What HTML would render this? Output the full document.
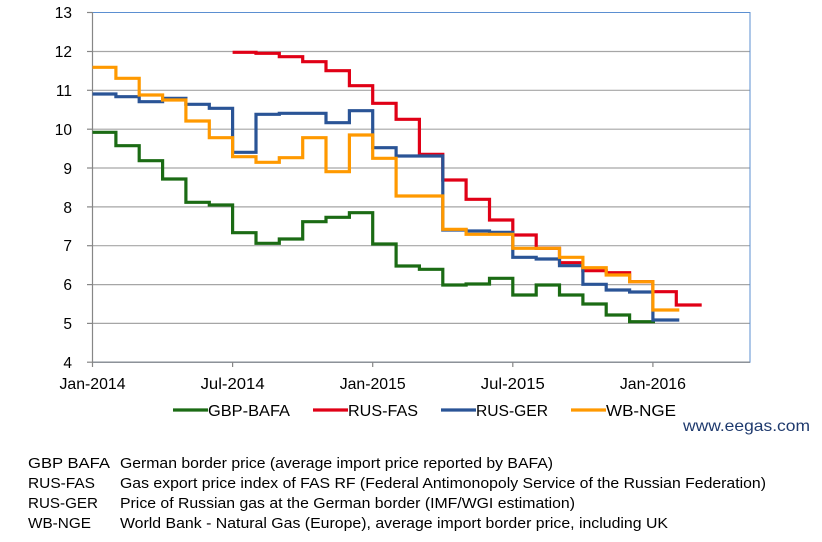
<!DOCTYPE html>
<html><head><meta charset="utf-8"><style>
html,body{margin:0;padding:0;background:#fff;}
svg{display:block;font-family:"Liberation Sans",sans-serif;}
</style></head><body>
<svg width="822" height="542" viewBox="0 0 822 542" xmlns="http://www.w3.org/2000/svg">
<g stroke="#a6a6a6" stroke-width="1.2">
<line x1="92.5" y1="51.5" x2="750" y2="51.5"/>
<line x1="92.5" y1="90.3" x2="750" y2="90.3"/>
<line x1="92.5" y1="129.2" x2="750" y2="129.2"/>
<line x1="92.5" y1="168" x2="750" y2="168"/>
<line x1="92.5" y1="206.9" x2="750" y2="206.9"/>
<line x1="92.5" y1="245.7" x2="750" y2="245.7"/>
<line x1="92.5" y1="284.6" x2="750" y2="284.6"/>
<line x1="92.5" y1="323.4" x2="750" y2="323.4"/>
<line x1="92.5" y1="362.2" x2="750" y2="362.2"/>
</g>
<rect x="92.5" y="12.5" width="657.5" height="349.7" fill="none" stroke="#5b8fd1" stroke-width="1"/>
<g stroke="#868686" stroke-width="1.2">
<line x1="92.5" y1="12.5" x2="92.5" y2="367"/>
<line x1="92.5" y1="362.2" x2="750" y2="362.2"/>
<line x1="87" y1="12.5" x2="92.5" y2="12.5"/><line x1="87" y1="51.5" x2="92.5" y2="51.5"/><line x1="87" y1="90.3" x2="92.5" y2="90.3"/><line x1="87" y1="129.2" x2="92.5" y2="129.2"/><line x1="87" y1="168" x2="92.5" y2="168"/><line x1="87" y1="206.9" x2="92.5" y2="206.9"/><line x1="87" y1="245.7" x2="92.5" y2="245.7"/><line x1="87" y1="284.6" x2="92.5" y2="284.6"/><line x1="87" y1="323.4" x2="92.5" y2="323.4"/><line x1="87" y1="362.2" x2="92.5" y2="362.2"/>
<line x1="232.6" y1="362" x2="232.6" y2="367"/><line x1="372.7" y1="362" x2="372.7" y2="367"/><line x1="512.8" y1="362" x2="512.8" y2="367"/><line x1="652.9" y1="362" x2="652.9" y2="367"/>
</g>
<g font-size="15.5" fill="#000" text-anchor="end">
<text x="72" y="18">13</text><text x="72" y="57">12</text><text x="72" y="96">11</text><text x="72" y="135">10</text>
<text x="72" y="174">9</text><text x="72" y="213">8</text><text x="72" y="251">7</text><text x="72" y="290">6</text>
<text x="72" y="329">5</text><text x="72" y="368">4</text>
</g>
<g font-size="16" fill="#000" text-anchor="middle">
<text x="92.5" y="389" textLength="66" lengthAdjust="spacingAndGlyphs">Jan-2014</text>
<text x="232.6" y="389" textLength="64" lengthAdjust="spacingAndGlyphs">Jul-2014</text>
<text x="372.7" y="389" textLength="66" lengthAdjust="spacingAndGlyphs">Jan-2015</text>
<text x="512.8" y="389" textLength="64" lengthAdjust="spacingAndGlyphs">Jul-2015</text>
<text x="652.9" y="389" textLength="66" lengthAdjust="spacingAndGlyphs">Jan-2016</text>
</g>
<g fill="none" stroke-width="3.2" stroke-linejoin="miter">
<path stroke="#1b6b14" d="M92.5 132.3 H115.9 V145.7 H139.2 V160.7 H162.6 V179 H185.9 V202.3 H209.3 V205 H232.6 V232.7 H256 V243.3 H279.3 V239 H302.7 V221.7 H326 V217.3 H349.4 V212.7 H372.7 V244 H396.1 V266 H419.4 V269.3 H442.8 V285 H466.1 V284 H489.5 V278.3 H512.8 V295 H536.2 V285 H559.5 V295 H582.9 V304 H606.2 V315 H629.6 V321.7 H655"/>
<path stroke="#e00016" d="M232.6 52.3 H256 V53.3 H279.3 V56.7 H302.7 V61.7 H326 V70.7 H349.4 V85.7 H372.7 V103.3 H396.1 V119.3 H419.4 V154.3 H442.8 V180 H466.1 V199.3 H489.5 V220 H512.8 V235 H536.2 V248.3 H559.5 V262.7 H582.9 V270.7 H606.2 V272.7 H629.6 V281.7 H652.9 V291.7 H676.3 V305 H701.7"/>
<path stroke="#2a5496" d="M92.5 94 H115.9 V96.7 H139.2 V101.7 H162.6 V98.3 H185.9 V104.3 H209.3 V108.3 H232.6 V152.3 H256 V114.3 H279.3 V113.3 H326 V122.7 H349.4 V110.7 H372.7 V147.7 H396.1 V156 H442.8 V230 H466.1 V231 H489.5 V232.3 H512.8 V257.3 H536.2 V259 H559.5 V265.7 H582.9 V284.3 H606.2 V290 H629.6 V292 H652.9 V320 H679.3"/>
<path stroke="#ff9900" d="M92.5 67.3 H115.9 V78.3 H139.2 V95 H162.6 V100 H185.9 V121 H209.3 V137.7 H232.6 V156.7 H256 V162.3 H279.3 V157.7 H302.7 V137.7 H326 V171.7 H349.4 V135 H372.7 V158.3 H396.1 V196 H442.8 V229.3 H466.1 V234.3 H512.8 V248.3 H559.5 V257.3 H582.9 V267.7 H606.2 V275 H629.6 V281.7 H652.9 V310 H679.3"/>
</g>
<g stroke-width="3.2">
<line x1="173" y1="410" x2="208" y2="410" stroke="#1b6b14"/>
<line x1="313" y1="410" x2="348" y2="410" stroke="#e00016"/>
<line x1="441" y1="410" x2="476" y2="410" stroke="#2a5496"/>
<line x1="571" y1="410" x2="606" y2="410" stroke="#ff9900"/>
</g>
<g font-size="16" fill="#000">
<text x="208" y="416" textLength="82" lengthAdjust="spacingAndGlyphs">GBP-BAFA</text>
<text x="348" y="416" textLength="70" lengthAdjust="spacingAndGlyphs">RUS-FAS</text>
<text x="476" y="416" textLength="72" lengthAdjust="spacingAndGlyphs">RUS-GER</text>
<text x="606" y="416" textLength="70" lengthAdjust="spacingAndGlyphs">WB-NGE</text>
</g>
<text x="683" y="431" font-size="16" fill="#1f3a6e" textLength="127" lengthAdjust="spacingAndGlyphs">www.eegas.com</text>
<g font-size="15" fill="#000">
<text x="28" y="468" textLength="82" lengthAdjust="spacingAndGlyphs">GBP BAFA</text>
<text x="120" y="468" textLength="433" lengthAdjust="spacingAndGlyphs">German border price (average import price reported by BAFA)</text>
<text x="28" y="488" textLength="67" lengthAdjust="spacingAndGlyphs">RUS-FAS</text>
<text x="120" y="488" textLength="646" lengthAdjust="spacingAndGlyphs">Gas export price index of FAS RF (Federal Antimonopoly Service of the Russian Federation)</text>
<text x="28" y="508" textLength="70" lengthAdjust="spacingAndGlyphs">RUS-GER</text>
<text x="120" y="508" textLength="455" lengthAdjust="spacingAndGlyphs">Price of Russian gas at the German border (IMF/WGI estimation)</text>
<text x="28" y="528" textLength="63" lengthAdjust="spacingAndGlyphs">WB-NGE</text>
<text x="120" y="528" textLength="548" lengthAdjust="spacingAndGlyphs">World Bank - Natural Gas (Europe), average import border price, including UK</text>
</g>
</svg>
</body></html>
